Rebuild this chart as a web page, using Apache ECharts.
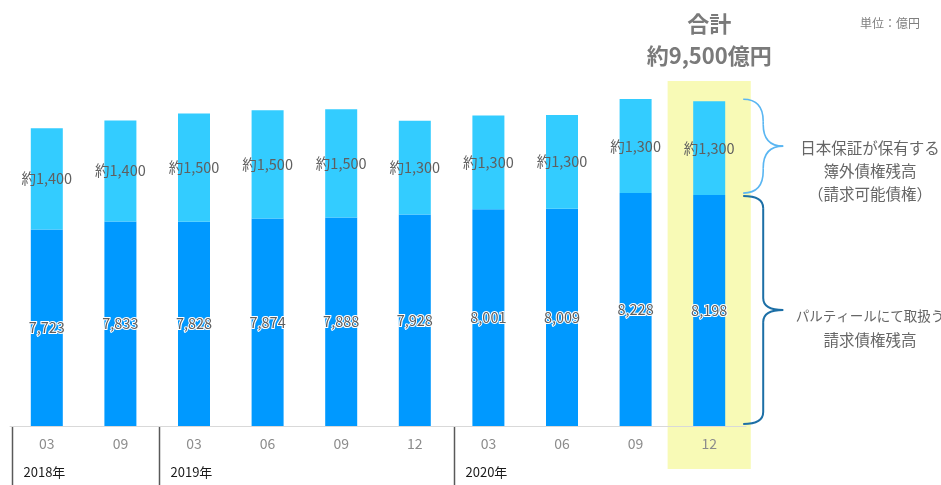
<!DOCTYPE html>
<html><head><meta charset="utf-8">
<script src="https://cdn.jsdelivr.net/npm/echarts@6/dist/echarts.min.js"></script>
<style>html,body{margin:0;padding:0;background:#fff}#c{width:941px;height:485px}</style>
</head><body><div id="c"></div>
<script>
const months = ['03','09','03','06','09','12','03','06','09','12'];
const years = ['2018年','2019年','2020年'];
const yearStartIndex = [0, 2, 6];
const partyValues = [7723, 7833, 7828, 7874, 7888, 7928, 8001, 8009, 8228, 8198];
const offBookValues = [1400, 1400, 1500, 1500, 1500, 1300, 1300, 1300, 1300, 1300];
const totalTitle = '合計';
const totalText = '約9,500億円';
const unitText = '単位：億円';
const offBookNote = ['日本保証が保有する', '簿外債権残高', '（請求可能債権）'];
const partyNote = ['パルティールにて取扱う', '請求債権残高'];

const FONT = "'Noto Sans CJK JP', 'Noto Sans', sans-serif";
const chart = echarts.init(document.getElementById('c'), null, {renderer: 'canvas'});
const fmt = v => v.toLocaleString('en-US');

chart.setOption({
  animation: false,
  textStyle: {fontFamily: FONT},
  grid: {left: 10, right: 195, top: 65, bottom: 59},
  xAxis: {
    type: 'category', data: months,
    axisLine: {lineStyle: {color: '#d9d9d9', width: 1}},
    axisTick: {show: false},
    axisLabel: {color: '#8c8c8c', fontSize: 14, margin: 11, interval: 0}
  },
  yAxis: {type: 'value', min: 5000, max: 10000, show: false, splitLine: {show: false}},
  series: [
    {type: 'bar', stack: 'a', barWidth: 32, data: partyValues, z: 3,
     itemStyle: {color: '#0099FF'},
     label: {show: true, position: 'inside', color: '#5f5f5f', fontSize: 14.5,
             textBorderColor: '#fff', textBorderWidth: 2, formatter: p => fmt(p.value)}},
    {type: 'bar', stack: 'a', barWidth: 32, data: offBookValues, z: 3,
     itemStyle: {color: '#33CCFF'},
     label: {show: true, position: 'inside', color: '#5f5f5f', fontSize: 14.5,
             formatter: p => '約' + fmt(p.value)}}
  ]
});

function braceParts(x0, x1, x2, y1, y2, r, stroke, lw) {
  const ym = (y1 + y2) / 2;
  const st = {stroke: stroke, lineWidth: lw, fill: null};
  const curve = (ax, ay, cx_, cy_, bx, by) => ({type: 'bezierCurve', z: 10,
    shape: {x1: ax, y1: ay, cpx1: cx_, cpy1: cy_, x2: bx, y2: by}, style: st});
  const line = (ax, ay, bx, by) => ({type: 'line', z: 10,
    shape: {x1: ax, y1: ay, x2: bx, y2: by}, style: st});
  return [
    curve(x0, y1, x1, y1, x1, y1 + r),
    line(x1, y1 + r, x1, ym - r),
    curve(x1, ym - r, x1, ym, x2, ym),
    curve(x2, ym, x1, ym, x1, ym + r),
    line(x1, ym + r, x1, y2 - r),
    curve(x1, y2 - r, x1, y2, x0, y2)
  ];
}

const last = months.length - 1;
const cx = i => chart.convertToPixel({xAxisIndex: 0}, i);
const band = cx(1) - cx(0);
const lastX = cx(last);
const yBase = chart.convertToPixel({yAxisIndex: 0}, 5000);
const yDarkTop = chart.convertToPixel({yAxisIndex: 0}, partyValues[last]);
const yTop = chart.convertToPixel({yAxisIndex: 0}, partyValues[last] + offBookValues[last]);

let g = [];
g.push({type: 'rect', z: 0, shape: {x: lastX - band * 0.565, y: 81, width: band * 1.13, height: 388},
        style: {fill: '#F8FAB6'}});
years.forEach((y, k) => {
  const left = Math.round(cx(yearStartIndex[k]) - band / 2) + 2.5;
  g.push({type: 'line', z: 10, shape: {x1: left, y1: yBase + 1, x2: left, y2: 485},
          style: {stroke: '#595959', lineWidth: 1.5}});
  g.push({type: 'text', z: 10, x: left + 11, y: 472,
          style: {text: y, fill: '#1a1a1a', font: `13px ${FONT}`, textVerticalAlign: 'middle'}});
});
g.push({type: 'text', z: 10, x: lastX, y: 24,
        style: {text: totalTitle, fill: '#7a7a7a', font: `bold 22px ${FONT}`, textAlign: 'center', textVerticalAlign: 'middle'}});
g.push({type: 'text', z: 10, x: lastX, y: 56,
        style: {text: totalText, fill: '#7a7a7a', font: `bold 22px ${FONT}`, textAlign: 'center', textVerticalAlign: 'middle'}});
g.push({type: 'text', z: 10, x: 890, y: 23,
        style: {text: unitText, fill: '#7f7f7f', font: `12px ${FONT}`, textAlign: 'center', textVerticalAlign: 'middle'}});

const x0 = lastX + 34, x1 = lastX + 54, x2 = lastX + 74;
g = g.concat(braceParts(x0, x1, x2, yTop - 2, yDarkTop - 2, 22, '#5AB6F2', 1.6));
g = g.concat(braceParts(x0, x1, x2, yDarkTop + 1, yBase - 2, 12, '#1C6FA6', 2));

const noteX = 870;
const midLight = (yTop + yDarkTop) / 2;
offBookNote.forEach((t, k) => {
  g.push({type: 'text', z: 10, x: noteX, y: midLight + k * 23,
          style: {text: t, fill: '#666', font: `15.5px ${FONT}`, textAlign: 'center', textVerticalAlign: 'middle'}});
});
const midDark = (yDarkTop + yBase) / 2;
partyNote.forEach((t, k) => {
  g.push({type: 'text', z: 10, x: noteX, y: midDark + 5 + k * 25,
          style: {text: t, fill: '#666', font: `${k === 0 ? 13.5 : 15.5}px ${FONT}`, textAlign: 'center', textVerticalAlign: 'middle'}});
});
chart.setOption({graphic: g});
</script></body></html>
